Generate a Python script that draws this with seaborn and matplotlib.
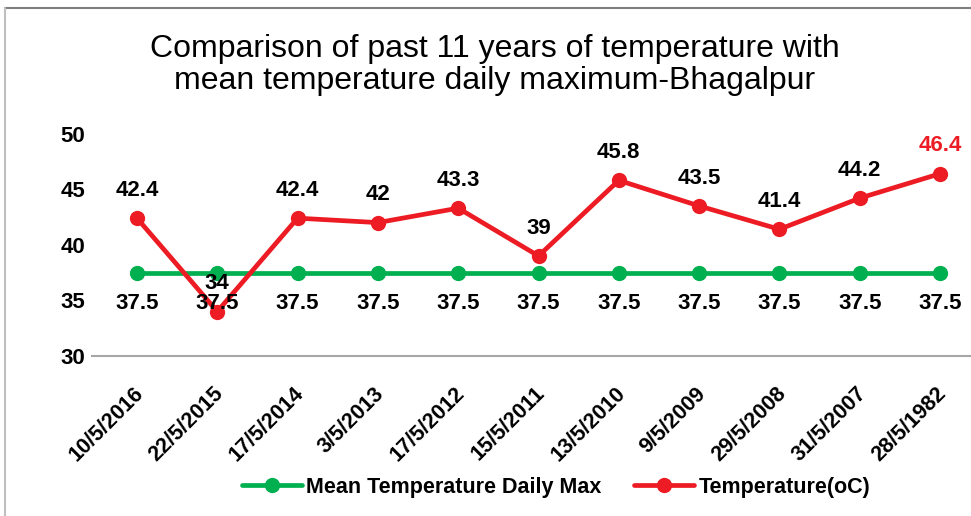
import numpy as np
import pandas as pd
import matplotlib
matplotlib.use("Agg")
import matplotlib.pyplot as plt
import seaborn as sns
from matplotlib.lines import Line2D

dates = ["10/5/2016", "22/5/2015", "17/5/2014", "3/5/2013", "17/5/2012",
         "15/5/2011", "13/5/2010", "9/5/2009", "29/5/2008", "31/5/2007",
         "28/5/1982"]
mean_max = [37.5] * 11
temperature = [42.4, 34, 42.4, 42, 43.3, 39, 45.8, 43.5, 41.4, 44.2, 46.4]
series_names = ["Mean Temperature Daily Max", "Temperature(oC)"]
colors = ["#00b050", "#ed1c24"]

sns.set_theme(style="white")
plt.rcParams["font.family"] = ["Liberation Sans", "DejaVu Sans"]
plt.rcParams["text.color"] = "black"
plt.rcParams["xtick.color"] = "black"
plt.rcParams["ytick.color"] = "black"

pos = list(range(len(dates)))
df = pd.DataFrame({
    "pos": pos * 2,
    "value": mean_max + temperature,
    "series": [series_names[0]] * len(dates) + [series_names[1]] * len(dates),
})

fig = plt.figure(figsize=(9.71, 5.16), dpi=100)
ax = fig.add_axes([92 / 971, 1 - 356 / 516, (985 - 92) / 971, (356 - 117) / 516])

sns.lineplot(data=df, x="pos", y="value", hue="series", palette=colors,
             marker="o", markersize=11, markeredgewidth=0, linewidth=3.4,
             sort=False, ax=ax)

# data labels
for i, v in enumerate(mean_max):
    ax.annotate(f"{v:g}", (i, v), xytext=(0, -22), textcoords="offset points",
                ha="center", va="center", fontsize=16, fontweight="bold",
                color="black")
for i, v in enumerate(temperature):
    c = colors[1] if i == len(temperature) - 1 else "black"
    ax.annotate(f"{v:g}", (i, v), xytext=(0, 20), textcoords="offset points",
                ha="center", va="center", fontsize=16, fontweight="bold",
                color=c)

ax.set_xlim(-0.56, len(dates) - 0.44)
ax.set_ylim(30, 51.5)
ax.set_yticks([30, 35, 40, 45, 50])
ax.set_xticks(pos)
ax.tick_params(axis="x", labelbottom=False, length=0)
# rotated category labels, placed a bit below the axis line
for i, d in enumerate(dates):
    ax.annotate(d, xy=(i, 0), xycoords=("data", "axes fraction"),
                xytext=(-3, -19.5), textcoords="offset points",
                rotation=45, ha="right", va="top", rotation_mode="anchor",
                fontsize=15.5, fontweight="bold", annotation_clip=False)
for lab in ax.get_yticklabels():
    lab.set_fontsize(16)
    lab.set_fontweight("bold")
ax.tick_params(axis="y", length=0, pad=5)
ax.set_xlabel("")
ax.set_ylabel("")
for s in ["left", "right", "top"]:
    ax.spines[s].set_visible(False)
ax.spines["bottom"].set_color("#a6a6a6")
ax.spines["bottom"].set_linewidth(1.5)

handles, labels = ax.get_legend_handles_labels()
ax.legend(handles, labels, loc="center", bbox_to_anchor=(556 / 971, 1 - 487 / 516),
          bbox_transform=fig.transFigure, ncol=2, frameon=False,
          prop={"size": 15.5, "weight": "bold"}, handlelength=2.8,
          handletextpad=0.2, columnspacing=1.5)

fig.text(495 / 971, 1 - 65 / 516,
         "Comparison of past 11 years of temperature with\nmean temperature daily maximum-Bhagalpur",
         ha="center", va="center", fontsize=23, linespacing=1.1)

# outer chart frame: only top and left edges are visible
fig.add_artist(Line2D([4.5 / 971, 1], [1 - 8 / 516, 1 - 8 / 516],
                      transform=fig.transFigure, color="#7f7f7f", linewidth=1.5))
fig.add_artist(Line2D([4.5 / 971, 4.5 / 971], [0, 1 - 8 / 516],
                      transform=fig.transFigure, color="#bfbfbf", linewidth=1.5))

fig.savefig("out.png", dpi=100)
